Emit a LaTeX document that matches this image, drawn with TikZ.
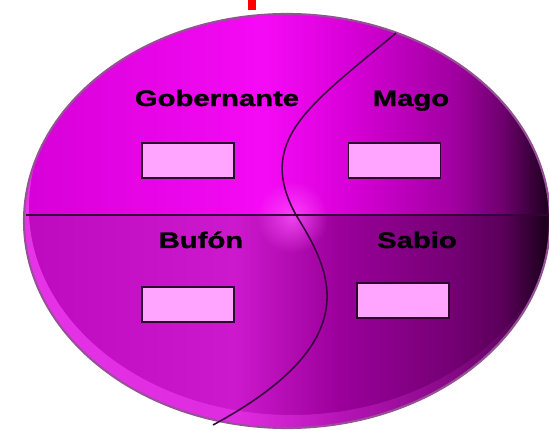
\documentclass[tikz,border=0pt]{standalone}
\usepackage{fontspec}
\usetikzlibrary{fadings}
\newfontfamily\labelfont[FakeStretch=1.3,BoldFeatures={FakeBold=1.2}]{Liberation Sans}

\definecolor{mgEdge}{RGB}{150,80,150}
\definecolor{mgGlow}{RGB}{255,80,255}
\definecolor{mgRim}{RGB}{250,70,250}
\definecolor{boxfill}{RGB}{255,165,255}
\definecolor{boxedge}{RGB}{45,10,45}
\definecolor{splitline}{RGB}{55,0,60}
% upper half
\definecolor{upA}{RGB}{215,0,215}
\definecolor{upB}{RGB}{245,10,245}
\definecolor{upC}{RGB}{215,0,215}
\definecolor{upD}{RGB}{160,0,160}
\definecolor{upE}{RGB}{110,0,110}
\definecolor{upF}{RGB}{35,0,35}
% lower half
\definecolor{loA}{RGB}{190,10,190}
\definecolor{loB}{RGB}{205,25,205}
\definecolor{loC}{RGB}{155,0,155}
\definecolor{loD}{RGB}{115,0,115}
\definecolor{loE}{RGB}{90,0,90}
\definecolor{loF}{RGB}{30,0,30}

\pgfdeclarehorizontalshading{upperpurple}{100bp}{color(0bp)=(upA); color(25bp)=(upA);
  color(48bp)=(upB); color(56bp)=(upC); color(66bp)=(upD); color(70.5bp)=(upE);
  color(74.5bp)=(upF); color(100bp)=(upF)}
\pgfdeclarehorizontalshading{lowerpurple}{100bp}{color(0bp)=(loA); color(25bp)=(loA);
  color(45bp)=(loB); color(55bp)=(loC); color(66bp)=(loD); color(70.5bp)=(loE);
  color(74.5bp)=(loF); color(100bp)=(loF)}
\tikzfading[name=glowfade,inner color=transparent!0,outer color=transparent!100]

\tikzset{
  quadlabel/.style={font=\labelfont\bfseries\fontsize{16pt}{16pt}\selectfont,anchor=base,inner sep=0pt},
  answerbox/.style={draw=boxedge,fill=boxfill,line width=1.2pt,minimum width=2.3cm,
    minimum height=0.875cm,inner sep=0pt},
}

\begin{document}
\begin{tikzpicture}[x=0.025cm,y=0.025cm]
  \useasboundingbox (0,0) rectangle (549,430);
  \coordinate (c) at (287,209);
  \coordinate (h1) at (26,215);
  \coordinate (h2) at (549,215);
  \coordinate (s1) at (396,397);
  \coordinate (s2) at (296,215);
  \coordinate (s3) at (213,5);

  % marca roja
  \fill[red] (248,420) rectangle (256,430);

  % cuerpo del ovalo
  \begin{scope}
    \clip (c) ellipse [x radius=263,y radius=207];
    \shade[shading=upperpurple] (24,215) rectangle (550,416);
    \shade[shading=lowerpurple] (24,0) rectangle (550,215);
    \fill[mgRim,opacity=0.7,path fading=east,even odd rule]
      (c) ellipse [x radius=263,y radius=207]
      (292,222) ellipse [x radius=263,y radius=207];
    \fill[mgGlow,opacity=0.8,path fading=glowfade] (292,213) circle (36);
  \end{scope}
  \draw[mgEdge,line width=1.5pt] (c) ellipse [x radius=263,y radius=207];

  % divisiones
  \draw[splitline,line width=1pt] (h1) -- (h2);
  \draw[splitline,line width=1.1pt] (s1) .. controls (310,325) and (255,290) .. (s2)
    .. controls (330,160) and (370,90) .. (s3);

  % rotulos
  \node[quadlabel] (gob) at (217,324) {Gobernante};
  \node[quadlabel] (mago) at (411,324) {Mago};
  \node[quadlabel] (bufon) at (201,182) {Bufón};
  \node[quadlabel] (sabio) at (417,182) {Sabio};

  \node[answerbox] (boxgob) at (188,269.5) {};
  \node[answerbox] (boxmago) at (394.5,269.5) {};
  \node[answerbox] (boxbufon) at (188,125.5) {};
  \node[answerbox] (boxsabio) at (403,129.5) {};
\end{tikzpicture}
\end{document}
